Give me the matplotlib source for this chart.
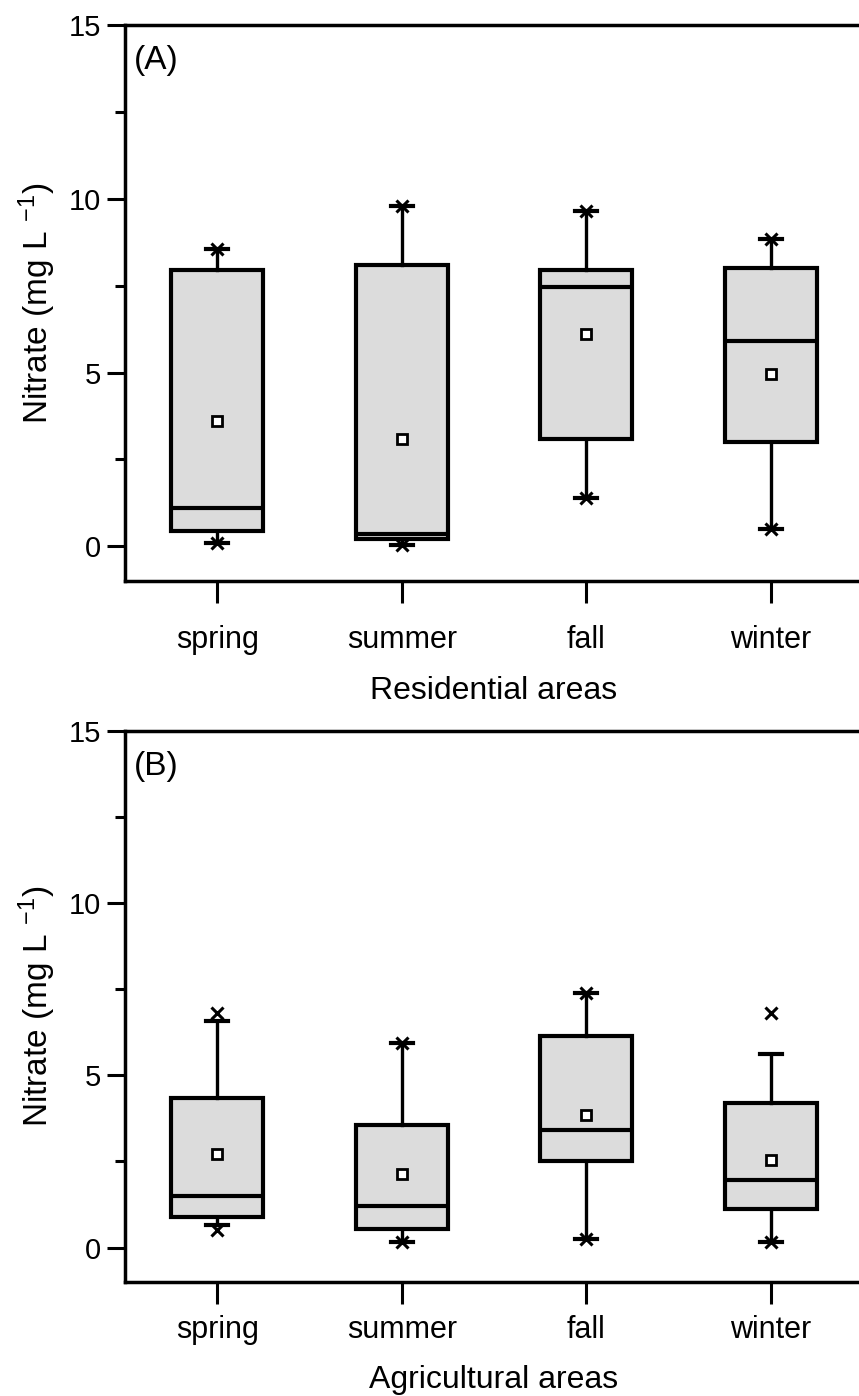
"""Seasonal nitrate box plots, residential vs agricultural areas."""

import matplotlib
matplotlib.use("Agg")
from matplotlib import pyplot as plt
from matplotlib.ticker import MultipleLocator

plt.rcParams["font.family"] = ["Liberation Sans", "DejaVu Sans"]
plt.rcParams["mathtext.fontset"] = "custom"
plt.rcParams["mathtext.rm"] = "Liberation Sans"
plt.rcParams["mathtext.it"] = "Liberation Sans"

seasons = ["spring", "summer", "fall", "winter"]

# Residential areas (A)
res_whislo = [0.1, 0.05, 1.4, 0.5]
res_q1 = [0.45, 0.2, 3.1, 3.0]
res_med = [1.1, 0.35, 7.45, 5.9]
res_q3 = [7.95, 8.1, 7.95, 8.0]
res_whishi = [8.55, 9.8, 9.65, 8.85]
res_mean = [3.6, 3.1, 6.1, 4.95]
res_p01 = [0.1, 0.05, 1.4, 0.5]
res_p99 = [8.55, 9.8, 9.65, 8.85]

# Agricultural areas (B)
agr_whislo = [0.65, 0.15, 0.25, 0.17]
agr_q1 = [0.9, 0.55, 2.5, 1.12]
agr_med = [1.5, 1.2, 3.42, 1.95]
agr_q3 = [4.35, 3.56, 6.15, 4.2]
agr_whishi = [6.58, 5.95, 7.4, 5.62]
agr_mean = [2.73, 2.14, 3.85, 2.55]
agr_p01 = [0.5, 0.15, 0.25, 0.17]
agr_p99 = [6.8, 5.95, 7.4, 6.8]

FILL = "#dcdcdc"


def make_stats(lo, q1, med, q3, hi, mean, p01, p99):
    stats = []
    for i in range(len(seasons)):
        stats.append(dict(whislo=lo[i], q1=q1[i], med=med[i], q3=q3[i],
                          whishi=hi[i], mean=mean[i],
                          fliers=[p01[i], p99[i]]))
    return stats


def draw_panel(ax, stats, tag, xlabel, tickpad, labelpad):
    ax.bxp(stats, positions=[1, 2, 3, 4], widths=0.5, capwidths=0.12,
           patch_artist=True, showmeans=True, showfliers=True,
           boxprops=dict(facecolor=FILL, edgecolor="black", linewidth=3.0),
           medianprops=dict(color="black", linewidth=3.0),
           whiskerprops=dict(color="black", linewidth=2.4),
           capprops=dict(color="black", linewidth=3.0),
           flierprops=dict(marker="x", markersize=9, markeredgewidth=2.2,
                           markeredgecolor="black"),
           meanprops=dict(marker="s", markersize=7, markerfacecolor="white",
                          markeredgecolor="black", markeredgewidth=2.0))
    ax.set_xlim(0.5, 4.5)
    ax.set_ylim(-1, 15)
    ax.yaxis.set_major_locator(MultipleLocator(5))
    ax.yaxis.set_minor_locator(MultipleLocator(2.5))
    ax.set_yticks([0, 5, 10, 15])
    ax.set_xticks([1, 2, 3, 4])
    ax.set_xticklabels(seasons)
    ax.tick_params(axis="y", which="major", direction="out", length=13,
                   width=2.2, labelsize=21, pad=4)
    ax.tick_params(axis="y", which="minor", direction="out", length=7,
                   width=2.2)
    ax.tick_params(axis="x", which="major", direction="out", length=16,
                   width=2.2, labelsize=22, pad=tickpad)
    for s in ax.spines.values():
        s.set_linewidth(2.5)
    ax.set_ylabel(r"Nitrate (mg L $^{-1}$)", fontsize=24, labelpad=8)
    ax.set_xlabel(xlabel, fontsize=23, labelpad=labelpad)
    ax.text(0.012, 0.964, tag, transform=ax.transAxes, fontsize=24,
            va="top", ha="left")


fig = plt.figure(figsize=(8.59, 13.96), dpi=100)
W, H = 859.0, 1396.0
ax1 = fig.add_axes([125 / W, 1 - 581 / H, (863 - 125) / W, (581 - 25) / H])
ax2 = fig.add_axes([125 / W, 1 - 1282 / H, (863 - 125) / W, (1282 - 731) / H])

draw_panel(ax1, make_stats(res_whislo, res_q1, res_med, res_q3, res_whishi,
                           res_mean, res_p01, res_p99),
           "(A)", "Residential areas", tickpad=16, labelpad=15)
draw_panel(ax2, make_stats(agr_whislo, agr_q1, agr_med, agr_q3, agr_whishi,
                           agr_mean, agr_p01, agr_p99),
           "(B)", "Agricultural areas", tickpad=8, labelpad=14)

fig.savefig("out.png", dpi=100)
